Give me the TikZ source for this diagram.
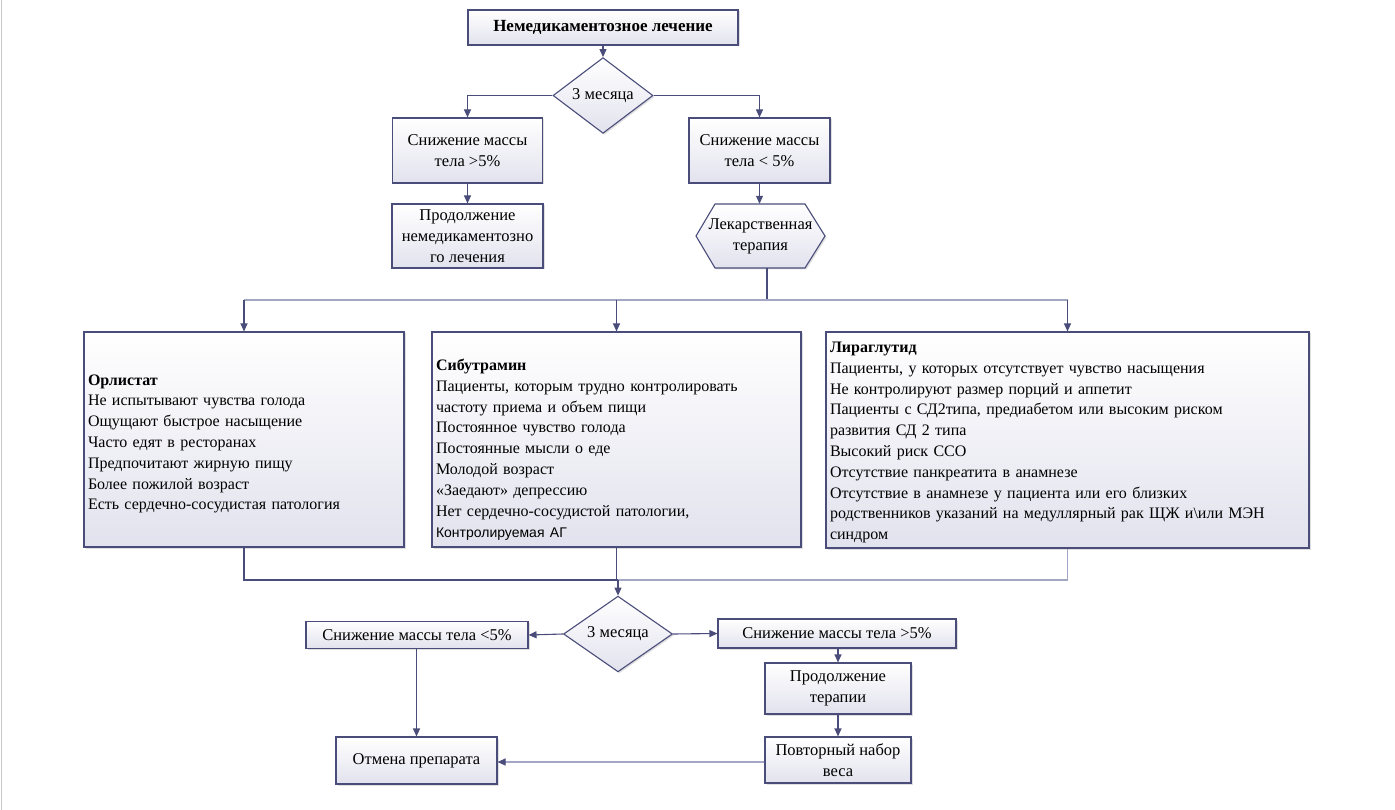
\documentclass[tikz,border=0pt]{standalone}
\usepackage{fontspec}
\setmainfont{Liberation Serif}
\newfontfamily\arialf{Liberation Sans}
\usetikzlibrary{shapes.geometric,arrows.meta,shadows}
\definecolor{edgec}{HTML}{4A4D7A}
\definecolor{litec}{HTML}{A3A6C4}
\definecolor{fillb}{HTML}{E2E2EE}
\definecolor{framec}{HTML}{C8C8C8}
\tikzset{
  x=1pt, y=-1pt,
  boxshade/.style={draw=edgec, line width=1.1pt, top color=white, bottom color=fillb,
    drop shadow={shadow xshift=1.5pt, shadow yshift=-1.5pt, opacity=0.25, fill=gray}},
  box/.style={boxshade, inner sep=2pt, align=center, font=\fontsize{16.5}{21}\selectfont},
  bigbox/.style={boxshade, inner sep=0pt},
  listtext/.style={inner sep=0pt, align=left, font=\fontsize{16}{20.8}\selectfont},
  decis/.style={diamond, boxshade, inner sep=0pt, font=\fontsize{16.5}{21}\selectfont},
  arr/.style={draw=edgec, line width=1.1pt, -{Triangle[length=8pt,width=7pt]}},
  ln/.style={draw=edgec, line width=1.1pt},
  lite/.style={draw=litec, line width=1.1pt},
  litearr/.style={draw=litec, line width=1.1pt, -{Triangle[length=8pt,width=7pt,color=edgec]}},
}
\begin{document}
\begin{tikzpicture}
\useasboundingbox (0,0) rectangle (1395,810);
\fill[white] (0,0) rectangle (1395,810);
\draw[framec, line width=1pt] (1,0) -- (1,810);

% top part
\node[box, font=\bfseries\fontsize{17}{21}\selectfont, minimum width=270, minimum height=35] (top) at (603,27.5) {Немедикаментозное лечение};
\node[decis, minimum width=100, minimum height=47] (d1) at (603,95.5) {3 месяца};
\node[box, minimum width=150, minimum height=65] (b1) at (467.5,150.5) {Снижение массы\\тела >5\%};
\node[box, minimum width=141, minimum height=65] (b2) at (759.5,150.5) {Снижение массы\\тела < 5\%};
\node[box, minimum width=151, minimum height=64] (b3) at (467.5,236) {Продолжение\\немедикаментозно\\го лечения};

% hexagon
\coordinate (hw) at (696,236);
\coordinate (he) at (825,236);
\draw[boxshade] (hw) -- (715,204) -- (805,204) -- (he) -- (805,268) -- (715,268) -- cycle;
\node[inner sep=0pt, minimum width=129, minimum height=64, align=center, font=\fontsize{16.5}{21}\selectfont] (hex) at (760.5,236) {Лекарственная\\терапия};

\draw[arr] (top) -- (d1);
\draw[arr] (d1.west) -| (b1.north);
\draw[arr] (d1.east) -| (b2.north);
\draw[arr] (b1) -- (b3);
\draw[arr] (b2.south) -- (b2.south |- hex.north);

% middle boxes
\node[bigbox, minimum width=320, minimum height=215] (orl) at (244,439.5) {};
\node[listtext, text width=314] (orlt) at (245,444) {\textbf{Орлистат}\\Не испытывают чувства голода\\Ощущают быстрое насыщение\\Часто едят в ресторанах\\Предпочитают жирную пищу\\Более пожилой возраст\\Есть сердечно-сосудистая патология};
\node[bigbox, minimum width=369, minimum height=215] (sib) at (616.5,439.5) {};
\node[listtext, text width=363] (sibt) at (617.5,450) {\textbf{Сибутрамин}\\Пациенты, которым трудно контролировать\\частоту приема и объем пищи\\Постоянное чувство голода\\Постоянные мысли о еде\\Молодой возраст\\«Заедают» депрессию\\Нет сердечно-сосудистой патологии,\\[1pt]{\arialf\fontsize{14}{18}\selectfont Контролируемая АГ}};
\node[bigbox, minimum width=483, minimum height=216] (lir) at (1067.5,440) {};
\node[listtext, text width=477] (lirt) at (1068.5,442.5) {\textbf{Лираглутид}\\Пациенты, у которых отсутствует чувство насыщения\\Не контролируют размер порций и аппетит\\Пациенты с СД2типа, предиабетом или высоким риском\\развития СД 2 типа\\Высокий риск ССО\\Отсутствие панкреатита в анамнезе\\Отсутствие в анамнезе у пациента или его близких\\родственников указаний на медуллярный рак ЩЖ и\textbackslash или МЭН\\синдром};

\coordinate (hb) at (767,268);
\coordinate (bt) at (767,300);
\coordinate (btl) at (244,300);
\coordinate (btr) at (1067.5,300);
\draw[ln] (hb) -- (bt);
\draw[lite] (btl) -- (btr);
\draw[arr] (btl) -- (orl.north);
\draw[arr] (sib.north |- bt) -- (sib.north);
\draw[arr] (btr) -- (lir.north);

% bottom part
\node[decis, minimum width=109, minimum height=46] (d2) at (618,634) {3 месяца};
\coordinate (bbl) at (244,580);
\coordinate (bbm) at (618,580);
\coordinate (bbr) at (1067.5,580);
\draw[ln] (orl.south) -- (bbl) -- (bbm);
\draw[lite] (bbm) -- (bbr) -- (lir.south);
\draw[ln] (sib.south) -- (sib.south |- bbm);
\draw[arr] (bbm) -- (d2.north);

\node[box, minimum width=222, minimum height=27] (s1) at (417,635) {Снижение массы тела <5\%};
\node[box, minimum width=238, minimum height=29] (s2) at (837,633.5) {Снижение массы тела >5\%};
\node[box, minimum width=146, minimum height=51] (pt) at (838,688.5) {Продолжение\\терапии};
\node[box, minimum width=146, minimum height=46] (pov) at (838,760) {Повторный набор\\веса};
\node[box, minimum width=161, minimum height=47] (otm) at (416.5,760.5) {Отмена препарата};

\draw[arr] (d2.west) -- (s1.east);
\draw[arr] (d2.east) -- (s2.west);
\draw[arr] (s2.south -| pt.north) -- (pt.north);
\draw[arr] (pt) -- (pov);
\draw[arr] (s1.south -| otm.north) -- (otm.north);
\draw[litearr] (pov.west |- 0,762) -- (otm.east |- 0,762);
\end{tikzpicture}
\end{document}
